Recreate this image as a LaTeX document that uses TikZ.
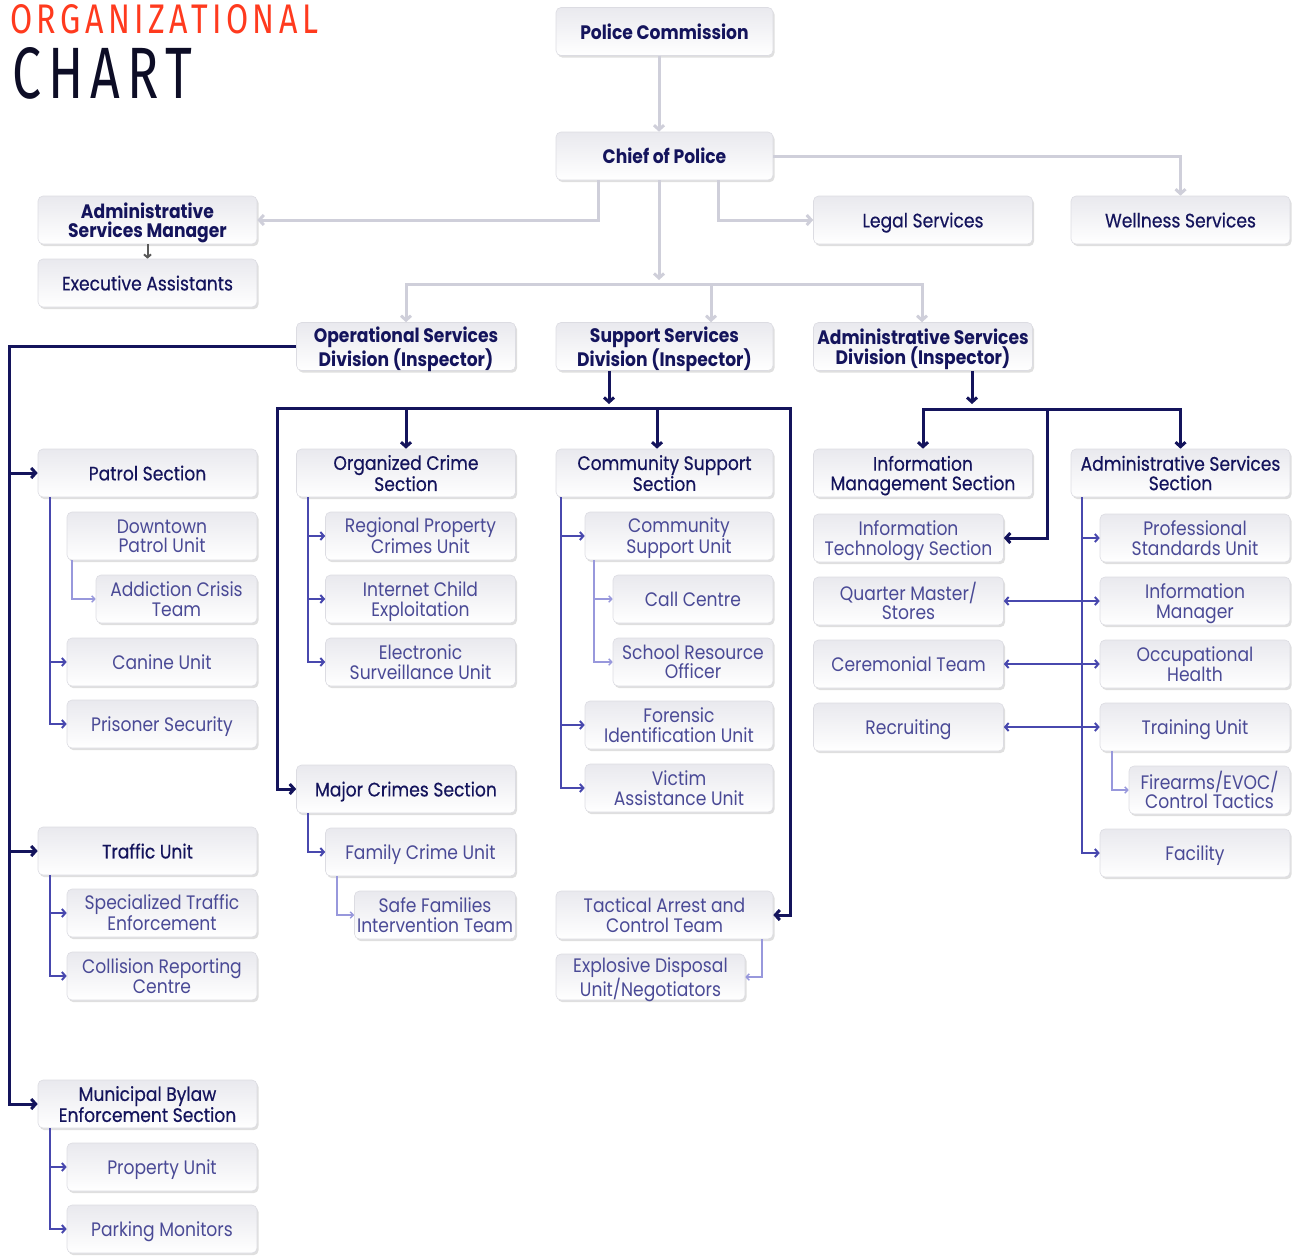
\documentclass[tikz,border=0pt]{standalone}
\usepackage{fontspec}
\usepackage{graphicx}
\setmainfont{Poppins}[FakeStretch=0.88]
\newfontfamily\medfont{Poppins}[FakeStretch=0.88,FakeBold=0.4]
\newfontfamily\titlefont{Fira Sans}[LetterSpace=14]
\usetikzlibrary{arrows.meta,shadows}
\definecolor{navy}{HTML}{14145C}
\definecolor{unittext}{HTML}{4A4A96}
\definecolor{grayln}{HTML}{CFCFDA}
\definecolor{purpln}{HTML}{4848AE}
\definecolor{lightpurp}{HTML}{9898DC}
\definecolor{boxline}{HTML}{DCDCE2}
\definecolor{boxtop}{HTML}{E9E9EE}
\definecolor{titlered}{HTML}{FF3A1E}
\definecolor{titledark}{HTML}{0D0D26}
\tikzset{
  orgbox/.style={rounded corners=5pt, draw=boxline, line width=0.6pt,
    top color=boxtop, bottom color=white,
    drop shadow={shadow xshift=1.6pt, shadow yshift=-2.2pt, opacity=0.28, fill=black!45},
    minimum height=48pt, inner sep=1pt, align=center, text depth=0pt},
  hd/.style={orgbox, font=\fontsize{19.5}{19.5}\selectfont\bfseries, text=navy},
  sec/.style={orgbox, font=\fontsize{19.5}{19.5}\selectfont\medfont, text=navy},
  unit/.style={orgbox, font=\fontsize{19.5}{19.5}\selectfont, text=unittext},
  wa/.style={minimum width=219pt},
  wb/.style={minimum width=190pt},
  wc/.style={minimum width=161pt},
  grayline/.style={draw=grayln, line width=3pt},
  gl/.style={grayline, -{Straight Barb[length=4.5pt,width=10pt]}},
  glboth/.style={grayline, {Straight Barb[length=4.5pt,width=10pt]}-{Straight Barb[length=4.5pt,width=10pt]}},
  navyline/.style={draw=navy, line width=3pt},
  nv/.style={navyline, -{Straight Barb[length=4.5pt,width=10pt]}},
  nvboth/.style={navyline, {Straight Barb[length=4.5pt,width=10pt]}-{Straight Barb[length=4.5pt,width=10pt]}},
  purpline/.style={draw=purpln, line width=2pt},
  pl/.style={purpline, -{Straight Barb[length=3.5pt,width=8pt]}},
  plboth/.style={purpline, {Straight Barb[length=3.5pt,width=8pt]}-{Straight Barb[length=3.5pt,width=8pt]}},
  lp/.style={draw=lightpurp, line width=1.4pt, -{Straight Barb[length=3pt,width=6.5pt]}},
}
\begin{document}
\begin{tikzpicture}[x=1pt,y=-1pt]
\useasboundingbox (0,0) rectangle (1295,1258);
% title
\node[anchor=north west, inner sep=0, text=titlered] (t1) at (10,4) {\resizebox{308pt}{29pt}{\titlefont ORGANIZATIONAL}};
\node[anchor=north west, inner sep=0, text=titledark] (t2) at (12,47) {\resizebox{180pt}{51pt}{\titlefont CHART}};
% top
\node[hd, minimum width=217pt] (pc) at (664.5,31.5) {Police Commission};
\node[hd, minimum width=217pt] (chief) at (664.5,156) {Chief of Police};
\node[hd, wa] (asm) at (147.5,220) {Administrative\\Services Manager};
\node[sec, wa] (exec) at (147.5,283) {Executive Assistants};
\node[sec, wa] (legal) at (923,220) {Legal Services};
\node[sec, wa] (well) at (1180.5,220) {Wellness Services};
\node[hd, wa] (ops) at (406,346.5) {Operational Services\\Division (Inspector)};
\node[hd, minimum width=217pt] (sup) at (664.5,346.5) {Support Services\\Division (Inspector)};
\node[hd, wa] (adm) at (923,346.5) {Administrative Services\\Division (Inspector)};
% column 1
\node[sec, wa] (patrol) at (147.5,473) {Patrol Section};
\node[unit, wb] (dpu) at (162,536) {Downtown\\Patrol Unit};
\node[unit, wc] (act) at (176.5,599) {Addiction Crisis\\Team};
\node[unit, wb] (canine) at (162,662) {Canine Unit};
\node[unit, wb] (prison) at (162,724) {Prisoner Security};
\node[sec, wa] (traffic) at (147.5,851) {Traffic Unit};
\node[unit, wb] (spec) at (162,913) {Specialized Traffic\\Enforcement};
\node[unit, wb] (coll) at (162,976) {Collision Reporting\\Centre};
\node[sec, wa] (muni) at (147.5,1104) {Municipal Bylaw\\Enforcement Section};
\node[unit, wb] (prop) at (162,1167) {Property Unit};
\node[unit, wb] (park) at (162,1229) {Parking Monitors};
% column 2
\node[sec, wa] (orgc) at (406,473) {Organized Crime\\Section};
\node[unit, wb] (rpc) at (420.5,536) {Regional Property\\Crimes Unit};
\node[unit, wb] (ice) at (420.5,599) {Internet Child\\Exploitation};
\node[unit, wb] (esu) at (420.5,662) {Electronic\\Surveillance Unit};
\node[sec, wa] (major) at (406,789) {Major Crimes Section};
\node[unit, wb] (fcu) at (420.5,852) {Family Crime Unit};
\node[unit, wc] (sfit) at (435,915) {Safe Families\\Intervention Team};
% column 3
\node[sec, minimum width=217pt] (css) at (664.5,473) {Community Support\\Section};
\node[unit, minimum width=188pt] (csu) at (679,536) {Community\\Support Unit};
\node[unit, minimum width=160pt] (call) at (693,599) {Call Centre};
\node[unit, minimum width=160pt] (sro) at (693,662) {School Resource\\Officer};
\node[unit, minimum width=188pt] (fiu) at (679,725) {Forensic\\Identification Unit};
\node[unit, minimum width=188pt] (vau) at (679,788) {Victim\\Assistance Unit};
\node[unit, minimum width=217pt] (tact) at (664.5,915) {Tactical Arrest and\\Control Team};
\node[unit, minimum width=189pt, minimum height=46pt] (edu) at (650.5,977) {Explosive Disposal\\Unit/Negotiators};
% column 4
\node[sec, wa] (ims) at (923,473) {Information\\Management Section};
\node[unit, wb] (its) at (908.5,538) {Information\\Technology Section};
\node[unit, wb] (qms) at (908.5,601) {Quarter Master/\\Stores};
\node[unit, wb] (cer) at (908.5,664) {Ceremonial Team};
\node[unit, wb] (rec) at (908.5,727) {Recruiting};
% column 5
\node[sec, wa] (ass) at (1180.5,473) {Administrative Services\\Section};
\node[unit, wb] (psu) at (1195,538) {Professional\\Standards Unit};
\node[unit, wb] (imgr) at (1195,601) {Information\\Manager};
\node[unit, wb] (occ) at (1195,664) {Occupational\\Health};
\node[unit, wb] (train) at (1195,727) {Training Unit};
\node[unit, wc] (fire) at (1209.5,790) {Firearms/EVOC/\\Control Tactics};
\node[unit, wb] (fac) at (1195,853) {Facility};
% helper coordinates
\coordinate (x9) at (9,0);
\coordinate (x50) at (50,0);
\coordinate (x72) at (72,0);
\coordinate (x277) at (277,0);
\coordinate (x308) at (308,0);
\coordinate (x337) at (337,0);
\coordinate (x406) at (406,0);
\coordinate (x561) at (561,0);
\coordinate (x594) at (594,0);
\coordinate (x598) at (598,0);
\coordinate (x609) at (609,0);
\coordinate (x657) at (657,0);
\coordinate (x659) at (659,0);
\coordinate (x711) at (711,0);
\coordinate (x718) at (718,0);
\coordinate (x762) at (762,0);
\coordinate (x790) at (790,0);
\coordinate (x922) at (922,0);
\coordinate (x972) at (972,0);
\coordinate (x1047) at (1047,0);
\coordinate (x1082) at (1082,0);
\coordinate (x1112) at (1112,0);
\coordinate (ychief) at (0,280);
\coordinate (bar) at (0,284);
\coordinate (ysup) at (0,404);
\coordinate (yb) at (0,408);
\coordinate (yb3) at (0,409);
% gray connectors
\draw[gl] (pc.south -| x659) -- (chief.north -| x659);
\draw[gl] (chief.south -| x598) |- (asm.east);
\draw[gl] (chief.south -| x718) |- (legal.west);
\draw[gl] (chief.east) -| (well.north);
\draw[gl] (chief.south -| x659) -- (x659 |- ychief);
\draw[glboth] (ops.north) |- (x922 |- bar) -- (adm.north -| x922);
\draw[gl] (x711 |- bar) -- (sup.north -| x711);
\draw[draw=black!65, line width=2pt, -{Straight Barb[length=3pt,width=7pt]}] (asm.south) -- (exec.north);
% navy connectors
\draw[nv] (ops.west) -| (x9 |- muni.west) -- (muni.west);
\draw[nv] (x9 |- patrol.west) -- (patrol.west);
\draw[nv] (x9 |- traffic.west) -- (traffic.west);
\draw[nv] (sup.south -| x609) -- (x609 |- ysup);
\draw[nvboth] (major.west) -| (x277 |- yb) -| (tact.east -| x790) -- (tact.east);
\draw[nv] (x406 |- yb) -- (orgc.north);
\draw[nv] (x657 |- yb) -- (css.north -| x657);
\draw[nv] (adm.south -| x972) -- (x972 |- ysup);
\draw[nvboth] (ims.north) |- (x1047 |- yb3) -| (ass.north);
\draw[nv] (x1047 |- yb3) |- (its.east);
% purple connectors
\draw[pl] (patrol.south -| x50) |- (prison.west);
\draw[pl] (x50 |- canine.west) -- (canine.west);
\draw[pl] (traffic.south -| x50) |- (coll.west);
\draw[pl] (x50 |- spec.west) -- (spec.west);
\draw[pl] (muni.south -| x50) |- (park.west);
\draw[pl] (x50 |- prop.west) -- (prop.west);
\draw[pl] (orgc.south -| x308) |- (esu.west);
\draw[pl] (x308 |- rpc.west) -- (rpc.west);
\draw[pl] (x308 |- ice.west) -- (ice.west);
\draw[pl] (major.south -| x308) |- (fcu.west);
\draw[pl] (css.south -| x561) |- (vau.west);
\draw[pl] (x561 |- csu.west) -- (csu.west);
\draw[pl] (x561 |- fiu.west) -- (fiu.west);
\draw[pl] (ass.south -| x1082) |- (fac.west);
\draw[pl] (x1082 |- psu.west) -- (psu.west);
\draw[plboth] (qms.east) -- (imgr.west);
\draw[plboth] (cer.east) -- (occ.west);
\draw[plboth] (rec.east) -- (train.west);
% light purple connectors
\draw[lp] (dpu.south -| x72) |- (act.west);
\draw[lp] (csu.south -| x594) |- (sro.west);
\draw[lp] (x594 |- call.west) -- (call.west);
\draw[lp] (fcu.south -| x337) |- (sfit.west);
\draw[lp] (tact.south -| x762) |- (edu.east);
\draw[lp] (train.south -| x1112) |- (fire.west);
\end{tikzpicture}
\end{document}
